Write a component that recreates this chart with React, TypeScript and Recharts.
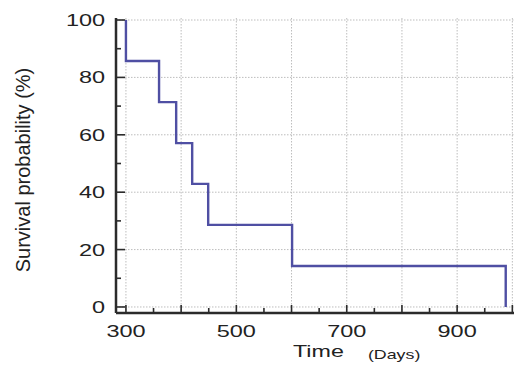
import React from "react";
import { LineChart, Line, XAxis, YAxis, CartesianGrid } from "recharts";

// Kaplan-Meier step points (time in days, survival %)
const times = [300, 300, 360, 391, 420, 449, 601, 988];
const survival = [100, 85.7, 71.4, 57.1, 42.9, 28.6, 14.3, 0];

const xTicks = [300, 350, 400, 450, 500, 550, 600, 650, 700, 750, 800, 850, 900, 950, 1000];
const xGrid = [300, 400, 500, 600, 700, 800, 900, 1000];
const xLabels = [300, 500, 700, 900];
const yTicks = [0, 10, 20, 30, 40, 50, 60, 70, 80, 90, 100];
const yGrid = [0, 20, 40, 60, 80, 100];
const yLabels = [0, 20, 40, 60, 80, 100];

const data = times.map((t, i) => ({ t, s: survival[i] }));

const FONT = "'Liberation Sans', Arial, sans-serif";
const AXIS = "#2b2b2b";

const XTick = (props: any) => {
  const { x, y, payload } = props;
  const v = payload.value;
  const major = xGrid.includes(v);
  return (
    <g>
      <line x1={x} x2={x} y1={y} y2={y - (major ? 8 : 5)} stroke={AXIS} strokeWidth={1.6} />
      {xLabels.includes(v) && (
        <text
          transform={`translate(${x},${y + 24}) scale(1.38,1)`}
          textAnchor="middle"
          fontSize={17}
          fill="#222"
          fontFamily={FONT}
        >
          {v}
        </text>
      )}
    </g>
  );
};

const YTick = (props: any) => {
  const { x, y, payload } = props;
  const v = payload.value;
  const major = yGrid.includes(v);
  return (
    <g>
      <line x1={x} x2={x + (major ? 9 : 5)} y1={y} y2={y} stroke={AXIS} strokeWidth={1.6} />
      {yLabels.includes(v) && (
        <text
          transform={`translate(${x - 11},${y + 6}) scale(1.38,1)`}
          textAnchor="end"
          fontSize={17}
          fill="#222"
          fontFamily={FONT}
        >
          {v}
        </text>
      )}
    </g>
  );
};

const YLabel = (props: any) => {
  const vb = props.viewBox || { x: 0, y: 0, width: 0, height: 0 };
  return (
    <text
      transform={`translate(${vb.x + 30},${vb.y + vb.height / 2 + 4.5}) rotate(-90)`}
      textAnchor="middle"
      fontSize={20}
      fill="#222"
      fontFamily={FONT}
    >
      Survival probability (%)
    </text>
  );
};

const XLabel = (props: any) => {
  const vb = props.viewBox || { x: 0, y: 0, width: 0, height: 0 };
  return (
    <g transform={`translate(${vb.x + 177},${vb.y + 44}) scale(1.37,1)`}>
      <text x={0} y={0} fontSize={17} fill="#222" fontFamily={FONT}>
        Time
      </text>
      <text x={54.7} y={2} fontSize={13} fill="#222" fontFamily={FONT}>
        (Days)
      </text>
    </g>
  );
};

export default function App() {
  return (
    <div style={{ position: "absolute", left: 0, top: 0, background: "#fff" }}>
      <LineChart width={514} height={368} data={data} margin={{ top: 18, right: 0, bottom: 0, left: 0 }}>
        <CartesianGrid
          stroke="#bdbdbd"
          strokeDasharray="1.5 1.5"
          verticalValues={xGrid}
          horizontalValues={yGrid}
        />
        <XAxis
          type="number"
          dataKey="t"
          domain={[282, 1003]}
          ticks={xTicks}
          interval={0}
          tickSize={0}
          tickMargin={0}
          tickLine={false}
          tick={<XTick />}
          height={55}
          axisLine={{ stroke: AXIS, strokeWidth: 2.5 }}
          allowDataOverflow
          label={<XLabel />}
        />
        <YAxis
          type="number"
          domain={[-2.1, 100.7]}
          ticks={yTicks}
          interval={0}
          tickSize={0}
          tickMargin={0}
          tickLine={false}
          tick={<YTick />}
          width={116}
          axisLine={{ stroke: AXIS, strokeWidth: 2.5 }}
          allowDataOverflow
          label={<YLabel />}
        />
        <Line
          type="stepAfter"
          dataKey="s"
          stroke="#4f4fa3"
          strokeWidth={2.4}
          dot={false}
          activeDot={false}
          isAnimationActive={false}
        />
      </LineChart>
    </div>
  );
}
